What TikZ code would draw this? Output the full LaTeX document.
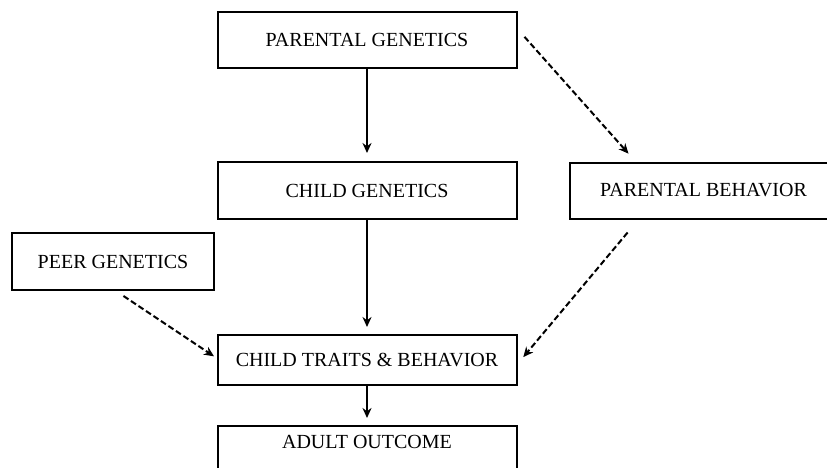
\documentclass[tikz,border=0pt]{standalone}
\usepackage{fontspec}
\setmainfont{Liberation Serif}
\usepackage{tikz}
\usetikzlibrary{arrows.meta,positioning}

\begin{document}
\begin{tikzpicture}[
    x=1pt, y=-1pt,
    box/.style={rectangle, draw, line width=2pt, minimum width=299pt, minimum height=56pt, font=\fontsize{20}{24}\selectfont, text centered, align=center},
    arrow/.style={-{Stealth[length=10pt,width=9pt]}, line width=2pt},
    dasharrow/.style={arrow, dash pattern=on 6pt off 3pt}
]
\clip (0,0) rectangle (827,468);

% Main flow
\node[box] (pg) at (367,40) {PARENTAL GENETICS};
\node[box, minimum height=57pt, below=92pt of pg] (cg) {CHILD GENETICS};
\node[box, minimum height=50pt, below=114pt of cg] (ct) {CHILD TRAITS \& BEHAVIOR};
\node[box, minimum height=0pt, inner ysep=5pt, text height=17pt, text depth=35pt, below=39pt of ct] (ao) {ADULT OUTCOME};

% Side boxes
\node[box, minimum width=268pt, right=51pt of cg] (pb) {PARENTAL BEHAVIOR};
\node[box, minimum width=202pt, minimum height=57pt] (peer) at (113,261.5) {PEER GENETICS};

% Arrows
\draw[arrow, shorten >=8pt] (pg) -- (cg);
\draw[arrow, shorten >=7pt] (cg) -- (ct);
\draw[arrow, shorten >=7pt] (ct) -- (ao);

% Dashed influences
\draw[dasharrow, shorten <=10.5pt, shorten >=10.5pt] ([yshift=11pt]pg.east) -- ([xshift=-68pt]pb.north);
\draw[dasharrow, shorten <=9pt, shorten >=3pt] ([xshift=3pt]peer.south) -- ([yshift=2pt]ct.west);
\draw[dasharrow, shorten <=17pt, shorten >=9pt] ([xshift=-65pt]pb.south) -- ([yshift=-4pt]ct.east);
\end{tikzpicture}
\end{document}
